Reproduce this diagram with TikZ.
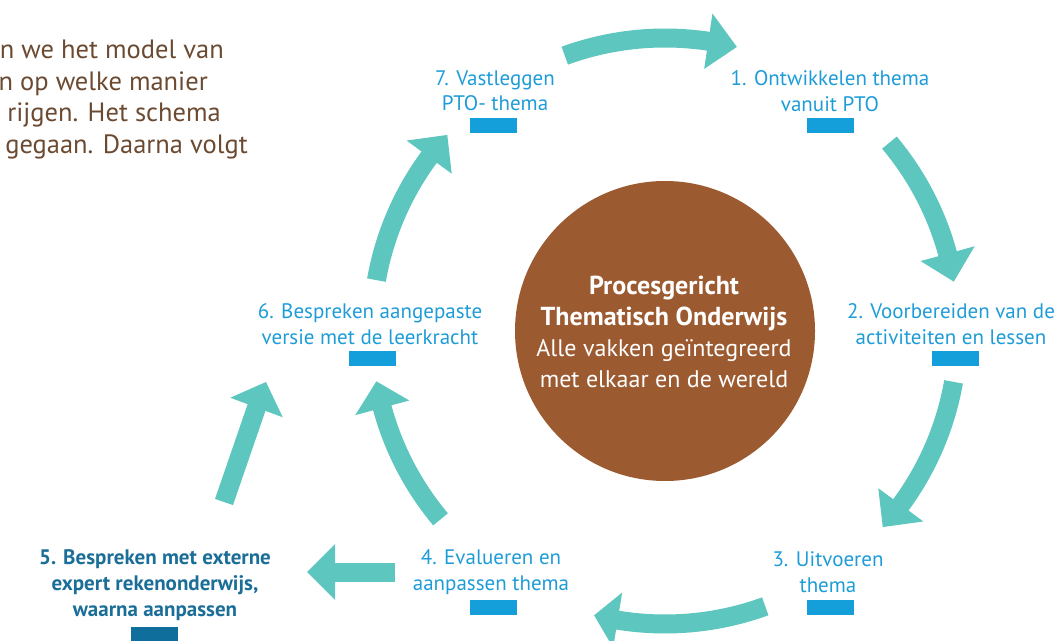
\documentclass[tikz,border=0pt]{standalone}
\usepackage{fontspec}
\setmainfont{PT Sans}
\usetikzlibrary{calc}

\definecolor{ringteal}{HTML}{5DC6BE}
\definecolor{stepblue}{HTML}{1E9CD7}
\definecolor{barblue}{HTML}{149FDA}
\definecolor{expertblue}{HTML}{1B6E97}
\definecolor{expertbar}{HTML}{0F6E9C}
\definecolor{hubbrown}{HTML}{9C5A31}
\definecolor{introbrown}{HTML}{6B4A31}

% curved arrow on the ring: tail angle, head base angle, tip angle
\newcommand\ringarrow[3]{%
  \draw[shaft] ($(hub.center)+(#1:293)$) arc[start angle=#1, end angle={#2-1}, radius=293];
  \fill[ringteal] ($(hub.center)+(#2:265)$) -- ($(hub.center)+(#2:321)$)
    -- ($(hub.center)+(#3:293)$) -- cycle;
}

\begin{document}
\begin{tikzpicture}[x=1pt,y=1pt,
  shaft/.style={draw=ringteal, line width=19pt},
  steplabel/.style={text=stepblue, align=center, inner sep=0pt,
    font=\fontsize{21}{25.5}\selectfont},
  expertlabel/.style={text=expertblue, align=center, inner sep=0pt,
    font=\fontsize{21}{26}\selectfont\bfseries},
  stepbar/.style={fill=barblue, minimum width=47pt, minimum height=15pt, inner sep=0pt},
  introline/.style={text=introbrown, anchor=base east, inner sep=0pt,
    font=\fontsize{26.5}{31}\selectfont},
]
\useasboundingbox (0,0) rectangle (1054,640);

% introduction text, partly outside the frame
\node[introline] (p1) at (224,581) {n we het model van};
\node[introline] (p2) at (208,549.5) {n op welke manier};
\node[introline] (p3) at (221,518) {rijgen. Het schema};
\node[introline] (p4) at (248,486) {gegaan. Daarna volgt};

% central circle
\node[circle, fill=hubbrown, minimum size=300pt, inner sep=0pt] (hub) at (665,309) {};
\node[text=white, align=center, inner sep=0pt,
  font=\fontsize{24}{31}\selectfont] (hubtext) at (664,308)
  {{\fontsize{26}{31}\selectfont\bfseries Procesgericht}\\
   {\fontsize{26}{31}\selectfont\bfseries Thematisch Onderwijs}\\
   Alle vakken geïntegreerd\\met elkaar en de wereld};

% steps
\node[steplabel] (s1) at (830,549) {1. Ontwikkelen thema\\vanuit PTO};
\node[stepbar] (b1) at (830,514.5) {};
\node[steplabel] (s2) at (951,316) {2. Voorbereiden van de\\activiteiten en lessen};
\node[stepbar] (b2) at (955,281) {};
\node[steplabel] (s3) at (828,68) {3. Uitvoeren\\thema};
\node[stepbar] (b3) at (830,32.5) {};
\node[steplabel] (s4) at (491,68) {4. Evalueren en\\aanpassen thema};
\node[stepbar] (b4) at (493.5,32.5) {};
\node[expertlabel] (s5) at (155,55) {5. Bespreken met externe\\expert rekenonderwijs,\\waarna aanpassen};
\node[stepbar, fill=expertbar] (b5) at (154.5,5.5) {};
\node[steplabel] (s6) at (370,316) {6. Bespreken aangepaste\\versie met de leerkracht};
\node[stepbar] (b6) at (372.5,281) {};
\node[steplabel] (s7) at (495,549) {7. Vastleggen\\PTO- thema};
\node[stepbar] (b7) at (493.5,514.5) {};

% arrows around the ring
\ringarrow{110}{81.5}{75.8}
\ringarrow{40}{15.3}{9.7}
\ringarrow{-10}{-36.4}{-42}
\ringarrow{-70}{-99.3}{-104}
\ringarrow{220}{195.2}{189.9}
\ringarrow{170}{143.6}{138}

% straight arrow from step 4 to step 5
\coordinate (e0) at (395,68);
\coordinate (e1) at (335,68);
\coordinate (e2) at (307,68);
\draw[shaft] (e0) -- ($(e1)!2pt!(e2)$);
\fill[ringteal] ($(e1)!28pt!90:(e2)$) -- (e2) -- ($(e1)!28pt!-90:(e2)$) -- cycle;

% straight arrow from step 5 to step 6
\coordinate (f0) at (224,138);
\coordinate (f1) at (256.5,232.5);
\coordinate (f2) at (266,258);
\draw[shaft] (f0) -- ($(f1)!2pt!(f2)$);
\fill[ringteal] ($(f1)!28pt!90:(f2)$) -- (f2) -- ($(f1)!28pt!-90:(f2)$) -- cycle;
\end{tikzpicture}
\end{document}
